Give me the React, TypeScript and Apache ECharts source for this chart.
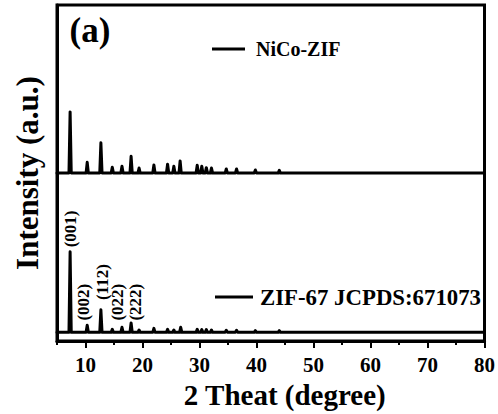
import React, { useEffect, useRef } from "react";
import * as echarts from "echarts";

const FONT = "'Liberation Serif', 'Times New Roman', serif";

// NiCo-ZIF (upper trace)
const nicoBase = 50.0;
const nicoPeakPos = [7.3, 10.3, 12.7, 14.7, 16.4, 18.0, 19.4, 22.0, 24.4, 25.5, 26.6, 29.6, 30.4, 31.2, 32.1, 34.7, 36.5, 39.8, 44.0];
const nicoPeakInt = [68.2, 53.2, 59.0, 51.7, 52.0, 55.0, 51.5, 52.4, 52.6, 52.0, 53.6, 52.3, 52.0, 51.6, 51.5, 51.2, 51.2, 50.9, 50.8];

// ZIF-67 JCPDS:671073 (lower trace)
const zifBase = 2.6;
const zifPeakPos = [7.3, 10.3, 12.7, 14.7, 16.4, 18.0, 19.4, 22.0, 24.4, 25.5, 26.7, 29.6, 30.4, 31.2, 32.1, 34.7, 36.5, 39.8, 44.0];
const zifPeakInt = [26.6, 4.7, 9.3, 3.5, 4.1, 5.4, 3.3, 3.8, 3.5, 3.3, 4.1, 3.5, 3.4, 3.4, 3.3, 3.2, 3.2, 3.1, 3.1];

// Miller index annotations
const hklLabels = ["(001)", "(002)", "(112)", "(022)", "(222)"];
const hklX = [7.3, 9.6, 12.9, 15.7, 18.7];
const hklY = [27.9, 6.1, 12.2, 6.1, 6.1];

const xTickLabels = [10, 20, 30, 40, 50, 60, 70, 80];
const xMinorTicks = [5, 10, 15, 20, 25, 30, 35, 40, 45, 50, 55, 60, 65, 70, 75, 80];

const PEAK_HALF = 0.2;

function buildTrace(base: number, pos: number[], ints: number[]) {
  const d: number[][] = [[5, base]];
  pos.forEach((p, i) => {
    d.push([p - PEAK_HALF, base]);
    d.push([p, ints[i]]);
    d.push([p + PEAK_HALF, base]);
  });
  d.push([80, base]);
  return d;
}

export default function App() {
  const ref = useRef<HTMLDivElement>(null);
  useEffect(() => {
    if (!ref.current) return;
    const chart = echarts.init(ref.current, null, { renderer: "svg" });
    const lineStyle = { color: "#000", width: 3, join: "round", cap: "round" };
    chart.setOption({
      animation: false,
      backgroundColor: "#fff",
      grid: { left: 57, right: 13, top: 5, bottom: 65, show: true, borderColor: "#000", borderWidth: 3 },
      xAxis: [
        {
          type: "value",
          min: 5,
          max: 80,
          interval: 5,
          name: "2 Theat (degree)",
          nameLocation: "middle",
          nameGap: 29,
          nameTextStyle: { fontFamily: FONT, fontWeight: "bold", fontSize: 29, color: "#000", padding: [0, 0, 0, 28] },
          axisLine: { show: true, lineStyle: { color: "#000", width: 3 } },
          axisTick: { show: true, length: 4, lineStyle: { color: "#000", width: 2 }, customValues: xMinorTicks },
          axisLabel: {
            customValues: xTickLabels,
            fontFamily: FONT,
            fontWeight: "bold",
            fontSize: 21,
            color: "#000",
            margin: 13,
          },
          splitLine: { show: false },
        },
        {
          type: "value",
          min: 5,
          max: 80,
          position: "bottom",
          axisLine: { show: false },
          axisTick: { show: true, length: 7, lineStyle: { color: "#000", width: 2 }, customValues: xTickLabels },
          axisLabel: { show: false },
          splitLine: { show: false },
        },
      ],
      yAxis: {
        type: "value",
        min: 0,
        max: 100,
        interval: 50,
        name: "Intensity (a.u.)",
        nameLocation: "middle",
        nameGap: 14,
        nameTextStyle: { fontFamily: FONT, fontWeight: "bold", fontSize: 31, color: "#000" },
        axisLine: { show: true, lineStyle: { color: "#000", width: 3 } },
        axisTick: { show: true, inside: true, length: 4, lineStyle: { color: "#000", width: 2 } },
        axisLabel: { show: false },
        splitLine: { show: false },
      },
      series: [
        {
          name: "NiCo-ZIF",
          type: "line",
          showSymbol: false,
          symbol: "none",
          data: buildTrace(nicoBase, nicoPeakPos, nicoPeakInt),
          lineStyle,
        },
        {
          name: "ZIF-67 JCPDS:671073",
          type: "line",
          showSymbol: false,
          symbol: "none",
          data: buildTrace(zifBase, zifPeakPos, zifPeakInt),
          lineStyle,
        },
      ],
    });

    const labelEls = hklLabels.map((t, i) => {
      const [px, py] = chart.convertToPixel({ xAxisIndex: 0, yAxisIndex: 0 }, [hklX[i], hklY[i]]) as number[];
      return {
        type: "text",
        x: px,
        y: py,
        rotation: Math.PI / 2,
        style: {
          text: t,
          fontFamily: FONT,
          fontWeight: "bold",
          fontSize: 17,
          fill: "#000",
          align: "left",
          verticalAlign: "middle",
        },
      };
    });

    chart.setOption({
      graphic: [
        {
          type: "text",
          x: 90,
          y: 30,
          style: { text: "(a)", fontFamily: FONT, fontWeight: "bold", fontSize: 35, fill: "#000", align: "center", verticalAlign: "middle" },
        },
        { type: "line", shape: { x1: 212, y1: 49, x2: 245, y2: 49 }, style: { stroke: "#000", lineWidth: 3 } },
        {
          type: "text",
          x: 256,
          y: 49,
          style: { text: "NiCo-ZIF", fontFamily: FONT, fontWeight: "bold", fontSize: 20, fill: "#000", align: "left", verticalAlign: "middle" },
        },
        { type: "line", shape: { x1: 215, y1: 297, x2: 253, y2: 297 }, style: { stroke: "#000", lineWidth: 3 } },
        {
          type: "text",
          x: 260,
          y: 297,
          style: { text: "ZIF-67 JCPDS:671073", fontFamily: FONT, fontWeight: "bold", fontSize: 22.8, fill: "#000", align: "left", verticalAlign: "middle" },
        },
        ...labelEls,
      ],
    });
    return () => chart.dispose();
  }, []);
  return <div ref={ref} style={{ position: "absolute", left: 0, top: 0, width: 498, height: 414 }} />;
}
